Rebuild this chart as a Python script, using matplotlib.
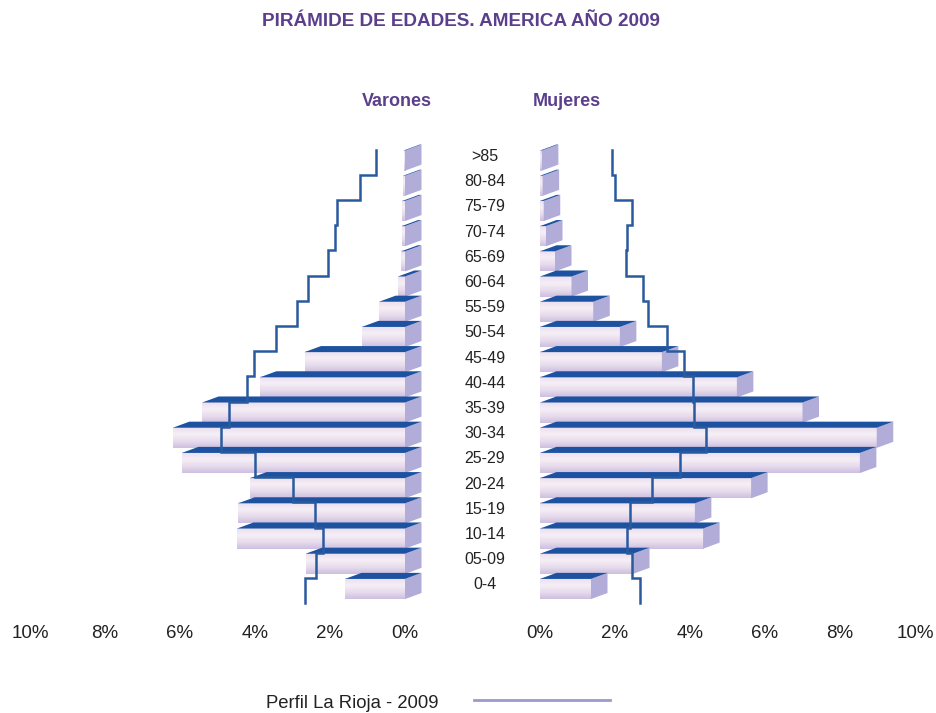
import numpy as np
import matplotlib
matplotlib.use('Agg')
import matplotlib.pyplot as plt
from matplotlib.patches import Polygon
from matplotlib.colors import LinearSegmentedColormap
from matplotlib.lines import Line2D
import matplotlib.transforms as mtransforms

plt.rcParams['font.family'] = ['Liberation Sans', 'DejaVu Sans']

# ---------------- data ----------------
age_groups = ['0-4', '05-09', '10-14', '15-19', '20-24', '25-29', '30-34', '35-39',
              '40-44', '45-49', '50-54', '55-59', '60-64', '65-69', '70-74', '75-79',
              '80-84', '>85']
male_america = [1.60, 2.65, 4.48, 4.45, 4.13, 5.95, 6.19, 5.41, 3.87, 2.68,
                1.15, 0.69, 0.19, 0.10, 0.09, 0.07, 0.05, 0.04]
female_america = [1.36, 2.48, 4.35, 4.13, 5.63, 8.53, 8.98, 7.00, 5.25, 3.25,
                  2.13, 1.42, 0.84, 0.40, 0.16, 0.10, 0.07, 0.05]
male_rioja = [2.67, 2.37, 2.18, 2.40, 2.99, 4.00, 4.91, 4.69, 4.21, 4.04,
              3.44, 2.88, 2.59, 2.05, 1.87, 1.81, 1.20, 0.77]
female_rioja = [2.67, 2.45, 2.33, 2.40, 2.98, 3.73, 4.42, 4.10, 4.07, 3.83,
                3.38, 2.87, 2.74, 2.28, 2.33, 2.45, 2.00, 1.92]
xticks = [0, 2, 4, 6, 8, 10]
xtick_labels = ['0%', '2%', '4%', '6%', '8%', '10%']

title = 'PIRÁMIDE DE EDADES. AMERICA AÑO 2009'
left_title = 'Varones'
right_title = 'Mujeres'
legend_label = 'Perfil La Rioja - 2009'

# ---------------- style ----------------
PURPLE = '#5b3f8c'
TOP_BLUE = '#1c52a0'
SIDE = '#b1acd8'
LINE = '#2a5a9e'
LEGEND_LINE = '#9c9aca'
front_cmap = LinearSegmentedColormap.from_list(
    'front', ['#e9def0', '#f6eff6', '#e8dcec', '#cdbfe0'])

H_FRONT = 0.80   # bar front height (row units)
DX = 0.44        # depth in % units
DY = 0.24        # depth in row units

W, H = 936, 713
fig = plt.figure(figsize=(W / 100, H / 100), dpi=100)

y_bot_px, y_top_px = 601.6, 148.0
bottom = (H - y_bot_px) / H
height = (y_bot_px - y_top_px) / H
axL = fig.add_axes([30 / W, bottom, 375 / W, height])
axR = fig.add_axes([540 / W, bottom, 375 / W, height])

grad = np.linspace(0, 1, 64).reshape(-1, 1)
n = len(age_groups)


def draw_bars(ax, values, side):
    for i in reversed(range(n)):
        v = values[i]
        b = i - H_FRONT / 2
        t = i + H_FRONT / 2
        ax.imshow(grad, extent=(0, v, b, t), origin='upper', cmap=front_cmap,
                  aspect='auto', zorder=2, interpolation='bilinear')
        if side == 'L':
            top = [(v, t), (0, t), (-DX, t + DY), (v - DX, t + DY)]
            sd = [(0, b), (-DX, b + DY), (-DX, t + DY), (0, t)]
        else:
            top = [(0, t), (v, t), (v + DX, t + DY), (DX, t + DY)]
            sd = [(v, b), (v + DX, b + DY), (v + DX, t + DY), (v, t)]
        ax.add_patch(Polygon(sd, closed=True, facecolor=SIDE, edgecolor='none',
                             zorder=2, clip_on=False))
        ax.add_patch(Polygon(top, closed=True, facecolor=TOP_BLUE, edgecolor='none',
                             zorder=3, clip_on=False))


def draw_profile(ax, values):
    xs, ys = [], []
    off = -0.06
    for i in range(n):
        xs += [values[i], values[i]]
        ys += [i - 0.5 + off, i + 0.5 + off]
    ax.plot(xs, ys, color=LINE, lw=1.8, zorder=5, solid_joinstyle='miter',
            clip_on=False)


draw_bars(axL, male_america, 'L')
draw_bars(axR, female_america, 'R')
draw_profile(axL, male_rioja)
draw_profile(axR, female_rioja)

for ax, lim in ((axL, (10, 0)), (axR, (0, 10))):
    ax.set_xlim(*lim)
    ax.set_ylim(-0.5, n - 0.5)
    for s in ax.spines.values():
        s.set_visible(False)
    ax.set_yticks([])
    ax.set_xticks(xticks)
    ax.set_xticklabels(xtick_labels, fontsize=13.5, color='#222222')
    ax.tick_params(axis='x', length=0, pad=16.5)
    ax.patch.set_alpha(0)

# age labels
tr = mtransforms.blended_transform_factory(fig.transFigure, axR.transData)
for i, lab in enumerate(age_groups):
    axR.text(485 / W, i + 0.16, lab, transform=tr, ha='center', va='center',
             fontsize=11.5, color='#222222', clip_on=False)

fig.text(461 / W, 1 - 21 / H, title, ha='center', va='center', fontsize=13.6,
         fontweight='bold', color=PURPLE)
fig.text(397 / W, 1 - 101 / H, left_title, ha='center', va='center', fontsize=13,
         fontweight='bold', color=PURPLE)
fig.text(567 / W, 1 - 101 / H, right_title, ha='center', va='center', fontsize=13,
         fontweight='bold', color=PURPLE)

fig.text(352 / W, 1 - 703 / H, legend_label, ha='center', va='center', fontsize=13.3,
         color='#222222')
fig.add_artist(Line2D([474 / W, 610 / W], [1 - 700 / H, 1 - 700 / H],
                      transform=fig.transFigure, color=LEGEND_LINE, lw=2))

fig.savefig('out.png', dpi=100)
